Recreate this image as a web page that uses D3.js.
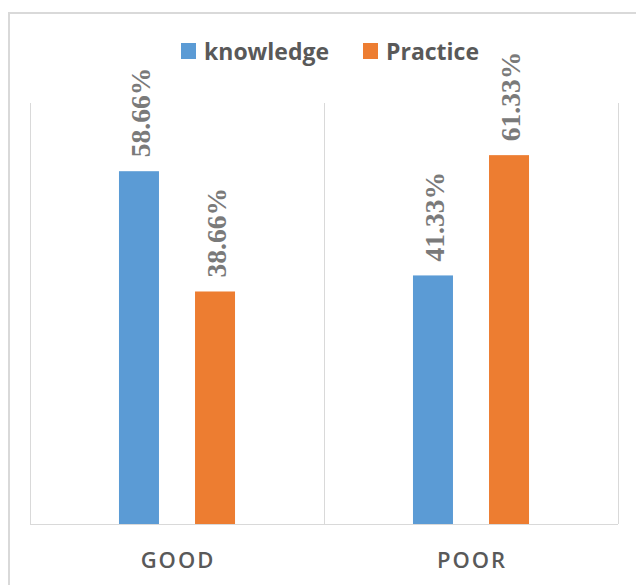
<!DOCTYPE html>
<html>
<head>
<meta charset="utf-8">
<script src="https://cdn.jsdelivr.net/npm/d3@7"></script>
<style>
  body { margin: 0; background: #fff; }
  svg { display: block; }
</style>
</head>
<body>
<div id="chart"></div>
<script>
var categories = ["GOOD", "POOR"];
var seriesNames = ["knowledge", "Practice"];
var knowledgeValues = [58.66, 41.33];
var practiceValues = [38.66, 61.33];
var labelText = [["58.66%", "38.66%"], ["41.33%", "61.33%"]];
var colors = ["#5b9bd5", "#ed7d31"];

var width = 636, height = 585;
var plot = {left: 30, right: 618, top: 103, bottom: 524};

var svg = d3.select("#chart").append("svg")
    .attr("width", width)
    .attr("height", height);

// outer frame (runs off the right and bottom edges)
svg.append("rect")
    .attr("x", 9).attr("y", 13)
    .attr("width", 700).attr("height", 700)
    .style("fill", "none")
    .style("stroke", "#d9d9d9")
    .style("stroke-width", 2);

var x0 = d3.scaleBand()
    .domain(categories)
    .range([plot.left, plot.right])
    .padding(0);

var x1 = d3.scaleBand()
    .domain(seriesNames)
    .range([0, x0.bandwidth()])
    .paddingInner(0.474)
    .paddingOuter(1.17);

var y = d3.scaleLinear()
    .domain([0, 70])
    .range([plot.bottom, plot.top]);

// category separators
var seps = [plot.left].concat(categories.map(function(c) { return x0(c) + x0.bandwidth(); }));
svg.append("g").selectAll("line")
    .data(seps)
    .enter().append("line")
    .attr("x1", function(d) { return Math.round(d) + 0.5; })
    .attr("x2", function(d) { return Math.round(d) + 0.5; })
    .attr("y1", plot.top)
    .attr("y2", plot.bottom)
    .style("stroke", "#d9d9d9")
    .style("stroke-width", 1);

var rows = categories.map(function(c, i) {
  return {cat: c, vals: [knowledgeValues[i], practiceValues[i]], labels: labelText[i]};
});

var groups = svg.append("g").selectAll("g")
    .data(rows)
    .enter().append("g")
    .attr("transform", function(d) { return "translate(" + x0(d.cat) + ",0)"; });

var bars = groups.selectAll("g.bar")
    .data(function(d) {
      return seriesNames.map(function(s, j) { return {s: s, v: d.vals[j], label: d.labels[j], j: j}; });
    })
    .enter().append("g").attr("class", "bar");

bars.append("rect")
    .attr("x", function(d) { return x1(d.s); })
    .attr("y", function(d) { return y(d.v); })
    .attr("width", x1.bandwidth())
    .attr("height", function(d) { return y(0) - y(d.v); })
    .style("fill", function(d) { return colors[d.j]; });

bars.append("text")
    .attr("transform", function(d) {
      return "translate(" + (x1(d.s) + x1.bandwidth() / 2 + 1) + "," + (y(d.v) - 14) + ") rotate(-90)";
    })
    .attr("dy", "0.35em")
    .style("font-family", "'Liberation Serif', 'Times New Roman', serif")
    .style("font-weight", "bold")
    .style("font-size", "27.5px")
    .style("fill", "#7a7a7a")
    .text(function(d) { return d.label; });

// baseline
svg.append("line")
    .attr("x1", plot.left).attr("x2", plot.right)
    .attr("y1", plot.bottom + 0.5).attr("y2", plot.bottom + 0.5)
    .style("stroke", "#d9d9d9");

// category labels
svg.append("g").selectAll("text")
    .data(categories)
    .enter().append("text")
    .attr("x", function(d) { return x0(d) + x0.bandwidth() / 2 + 1; })
    .attr("y", 568)
    .attr("text-anchor", "middle")
    .style("font-family", "'Open Sans', sans-serif")
    .style("font-weight", "600")
    .style("font-size", "22px")
    .style("letter-spacing", "2px")
    .style("fill", "#595959")
    .text(function(d) { return d; });

// legend
var legendX = [181, 363];
var legend = svg.append("g").selectAll("g")
    .data(seriesNames)
    .enter().append("g")
    .attr("transform", function(d, i) { return "translate(" + legendX[i] + ",43)"; });

legend.append("rect")
    .attr("width", 15).attr("height", 16)
    .style("fill", function(d, i) { return colors[i]; });

legend.append("text")
    .attr("x", 23)
    .attr("y", 17)
    .style("font-family", "'Open Sans', sans-serif")
    .style("font-weight", "bold")
    .style("font-size", "23px")
    .style("fill", "#595959")
    .text(function(d) { return d; });
</script>
</body>
</html>
